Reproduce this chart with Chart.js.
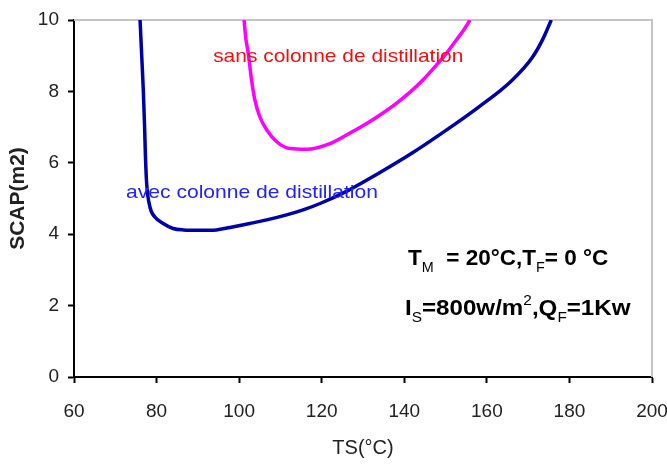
<!DOCTYPE html>
<html>
<head>
<meta charset="utf-8">
<script src="https://cdn.jsdelivr.net/npm/chart.js@4/dist/chart.umd.min.js"></script>
<style>
  html, body { margin: 0; padding: 0; background: #ffffff; }
  #wrap { width: 667px; height: 465px; position: relative; }
</style>
</head>
<body>
<div id="wrap"><canvas id="c" width="667" height="465"></canvas></div>
<script>
// Surface of the solar collector (SCAP, m2) against the storage temperature TS (°C)
const tsAvec = [76.0, 76.4, 76.8, 77.1, 77.3, 77.6, 78.4, 79.6, 81.6, 84.0, 86.5, 90.5, 94.5, 97.8, 102.6, 106.7, 111.5, 115.5, 119.6, 126.0, 134.0, 142.0, 150.0, 158.0, 166.0, 171.0, 173.5, 175.6];
const scapAvec = [10.0, 9.0, 8.0, 7.0, 6.2, 5.42, 4.76, 4.48, 4.30, 4.16, 4.12, 4.11, 4.12, 4.19, 4.30, 4.40, 4.54, 4.68, 4.86, 5.2, 5.72, 6.28, 6.9, 7.56, 8.3, 8.95, 9.45, 10.0];

const tsSans = [101.2, 101.6, 102.2, 103.0, 103.8, 105.0, 106.7, 109.1, 112.3, 116.3, 122.0, 126.0, 130.9, 134.1, 138.0, 141.4, 144.5, 147.8, 150.3, 152.6, 154.4, 155.9];
const scapSans = [10.0, 9.5, 9.07, 8.32, 7.76, 7.29, 6.92, 6.59, 6.40, 6.38, 6.54, 6.78, 7.1, 7.34, 7.66, 7.98, 8.32, 8.74, 9.08, 9.44, 9.72, 10.0];

const xTicks = [60, 80, 100, 120, 140, 160, 180, 200];
const yTicks = [0, 2, 4, 6, 8, 10];

const seriesNames = ['avec colonne de distillation', 'sans colonne de distillation'];
const xTitle = 'TS(°C)';
const yTitle = 'SCAP(m2)';

// Curve labels, anchored in data units (left edge, vertical middle, right edge)
const curveLabels = [
  { text: seriesNames[1], x: 93.7, y: 8.96, color: '#f01010', widthTo: 154.3 },
  { text: seriesNames[0], x: 72.6, y: 5.15, color: '#2222ff', widthTo: 133.6 }
];

// Operating conditions block: rich-text runs (s = sub, p = sup)
const condLine1 = [['T', ''], ['M', 's'], ['  = 20°C,T', ''], ['F', 's'], ['= 0 °C', '']];
const condLine2 = [['I', ''], ['S', 's'], ['=800w/m', ''], ['2', 'p'], [',Q', ''], ['F', 's'], ['=1Kw', '']];
const condAnchor = { x: 140.9, y1: 3.14, y2: 1.74, xEnd1: 189.4, xEnd2: 194.8 };

const FAMILY = '"Liberation Sans", Arial, sans-serif';

function pairs(xs, ys) { return xs.map((x, i) => ({ x: x, y: ys[i] })); }

const framePlugin = {
  id: 'frame',
  beforeDatasetsDraw(chart) {
    const { ctx, chartArea: a } = chart;
    ctx.save();
    ctx.strokeStyle = '#c4c4c4';
    ctx.lineWidth = 2;
    ctx.beginPath();
    ctx.moveTo(a.left, a.top);
    ctx.lineTo(a.right, a.top);
    ctx.lineTo(a.right, a.bottom);
    ctx.stroke();
    ctx.restore();
  },
  afterDraw(chart) {
    const { ctx } = chart;
    const xs = chart.scales.x, ys = chart.scales.y;

    // curve labels, fitted to their span
    curveLabels.forEach(l => {
      const px = xs.getPixelForValue(l.x);
      const py = ys.getPixelForValue(l.y);
      const w = xs.getPixelForValue(l.widthTo) - px;
      ctx.save();
      ctx.font = '19px ' + FAMILY;
      ctx.fillStyle = l.color;
      ctx.textBaseline = 'middle';
      const mw = ctx.measureText(l.text).width;
      ctx.translate(px, py);
      ctx.scale(w / mw, 1);
      ctx.fillText(l.text, 0, 0);
      ctx.restore();
    });

    // conditions block
    function runs(list, x0, xEnd, yBase) {
      ctx.save();
      ctx.fillStyle = '#000000';
      ctx.textBaseline = 'alphabetic';
      const big = 'bold 22px ' + FAMILY;
      const small = '14px ' + FAMILY;
      let total = 0;
      list.forEach(r => { ctx.font = r[1] ? small : big; total += ctx.measureText(r[0]).width; });
      const k = (xEnd - x0) / total;
      ctx.translate(x0, yBase);
      ctx.scale(k, 1);
      let cx = 0;
      list.forEach(r => {
        ctx.font = r[1] ? small : big;
        let dy = 0;
        if (r[1] === 's') dy = 7;
        if (r[1] === 'p') dy = -10;
        ctx.fillText(r[0], cx, dy);
        cx += ctx.measureText(r[0]).width;
      });
      ctx.restore();
    }
    const cx0 = xs.getPixelForValue(condAnchor.x);
    runs(condLine1, cx0, xs.getPixelForValue(condAnchor.xEnd1), ys.getPixelForValue(condAnchor.y1));
    runs(condLine2, cx0 - 3, xs.getPixelForValue(condAnchor.xEnd2), ys.getPixelForValue(condAnchor.y2));
  }
};

new Chart(document.getElementById('c'), {
  type: 'scatter',
  data: {
    datasets: [
      {
        label: seriesNames[0],
        data: pairs(tsAvec, scapAvec),
        showLine: true,
        borderColor: '#0000a8',
        borderWidth: 3.5,
        pointRadius: 0,
        cubicInterpolationMode: 'monotone',
        fill: false
      },
      {
        label: seriesNames[1],
        data: pairs(tsSans, scapSans),
        showLine: true,
        borderColor: '#ff00ff',
        borderWidth: 3.5,
        pointRadius: 0,
        cubicInterpolationMode: 'monotone',
        fill: false
      }
    ]
  },
  options: {
    responsive: false,
    animation: false,
    devicePixelRatio: 1,
    layout: { padding: { top: 20, right: 15, left: 0, bottom: 0 } },
    plugins: { legend: { display: false }, tooltip: { enabled: false } },
    scales: {
      x: {
        type: 'linear',
        min: xTicks[0],
        max: xTicks[xTicks.length - 1],
        afterBuildTicks(s) { s.ticks = xTicks.map(v => ({ value: v })); },
        afterFit(s) { s.height = 88; s.paddingRight = 0; s.paddingLeft = 0; },
        grid: { drawOnChartArea: false, drawTicks: true, tickLength: 6, tickColor: '#000', tickWidth: 2 },
        border: { color: '#000', width: 2 },
        ticks: { color: '#222', font: { family: FAMILY, size: 19 }, padding: 17, maxRotation: 0 },
        title: { display: true, text: xTitle, color: '#222', font: { family: FAMILY, size: 20 }, padding: { top: 0, bottom: 5 } }
      },
      y: {
        type: 'linear',
        min: yTicks[0],
        max: yTicks[yTicks.length - 1],
        afterBuildTicks(s) { s.ticks = yTicks.map(v => ({ value: v })); },
        afterFit(s) { s.width = 74; s.paddingTop = 0; s.paddingBottom = 0; },
        grid: { drawOnChartArea: false, drawTicks: true, tickLength: 6, tickColor: '#000', tickWidth: 2 },
        border: { color: '#000', width: 2 },
        ticks: { color: '#222', font: { family: FAMILY, size: 19 }, padding: 9 },
        title: { display: true, text: yTitle, color: '#222', font: { family: FAMILY, size: 21, weight: 'bold' }, padding: { top: 6, bottom: 0 } }
      }
    }
  },
  plugins: [framePlugin]
});
</script>
</body>
</html>
